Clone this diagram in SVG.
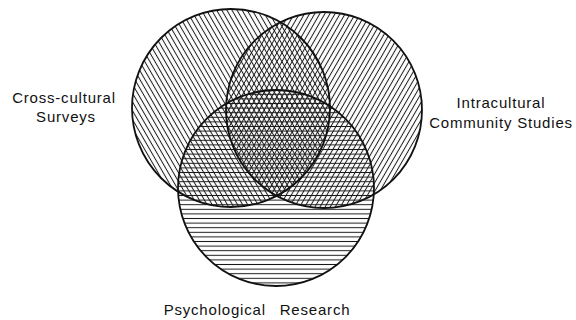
<svg xmlns="http://www.w3.org/2000/svg" width="576" height="320" viewBox="0 0 576 320">
<style>
.outline{fill:none;stroke:#111;stroke-width:1.8}
.lbl{font-family:"Liberation Sans","DejaVu Sans",sans-serif;font-size:15px;fill:#111;letter-spacing:0.8px}
</style>
<defs>
<pattern id="hatchL" patternUnits="userSpaceOnUse" width="12" height="4.4" patternTransform="rotate(60)">
<line x1="0" y1="2.2" x2="12" y2="2.2" stroke="#1a1a1a" stroke-width="1"/>
</pattern>
<pattern id="hatchR" patternUnits="userSpaceOnUse" width="12" height="4.4" patternTransform="rotate(-60)">
<line x1="0" y1="2.2" x2="12" y2="2.2" stroke="#1a1a1a" stroke-width="1"/>
</pattern>
<pattern id="hatchH" patternUnits="userSpaceOnUse" width="12" height="4.6">
<line x1="0" y1="2.3" x2="12" y2="2.3" stroke="#1a1a1a" stroke-width="1"/>
</pattern>
</defs>
<rect width="576" height="320" fill="#fff"/>
<g id="cross-cultural">
<circle cx="231" cy="108" r="99" fill="url(#hatchL)"/>
<text class="lbl" x="64" y="103" text-anchor="middle">Cross-cultural</text>
<text class="lbl" x="66" y="122" text-anchor="middle">Surveys</text>
</g>
<g id="intracultural">
<circle cx="324" cy="110" r="98" fill="url(#hatchR)"/>
<text class="lbl" x="501" y="108" text-anchor="middle">Intracultural</text>
<text class="lbl" x="501" y="128" text-anchor="middle">Community Studies</text>
</g>
<g id="psychological">
<circle cx="276" cy="188" r="98" fill="url(#hatchH)"/>
<text class="lbl" x="257" y="315" text-anchor="middle" word-spacing="9">Psychological Research</text>
</g>
<g id="outlines">
<circle class="outline" cx="231" cy="108" r="99"/>
<circle class="outline" cx="324" cy="110" r="98"/>
<circle class="outline" cx="276" cy="188" r="98"/>
</g>
</svg>
